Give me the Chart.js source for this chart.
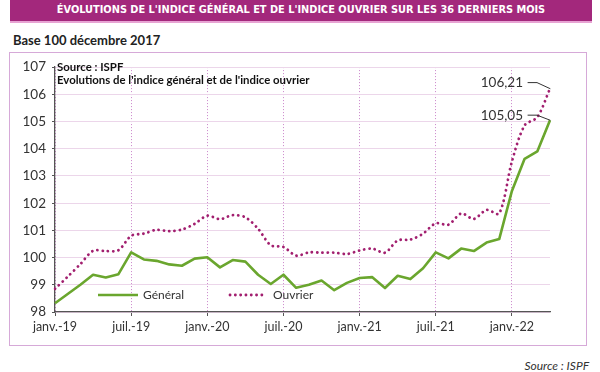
<!DOCTYPE html>
<html>
<head>
<meta charset="utf-8">
<script src="https://cdn.jsdelivr.net/npm/chart.js@4.4.0/dist/chart.umd.min.js"></script>
<style>
  html, body { margin: 0; padding: 0; background: #fff; }
  body { width: 600px; height: 372px; position: relative; overflow: hidden; font-family: Lato, 'Open Sans', sans-serif; color: #222; }
  .banner { position: absolute; left: 10px; top: 0; width: 582px; height: 21px; background: #a3287c; border-bottom: 2px solid #e7a3d3;
            color: #fff; font-weight: bold; font-size: 10.9px; line-height: 20px; text-align: center; font-family: 'DejaVu Sans Condensed', sans-serif; }
  .base { position: absolute; left: 13px; top: 32px; font-weight: bold; font-size: 13px; }
  .box { position: absolute; left: 9px; top: 52px; width: 578px; height: 294px; border: 1px solid #d6a9d8; box-sizing: border-box; }
  .box canvas { position: absolute; left: 0; top: 0; }
  .note { position: absolute; left: 47px; top: 7px; font-weight: bold; font-size: 11.4px; line-height: 13px; color: #111; }
  .src { position: absolute; right: 11px; top: 358px; font-style: italic; font-size: 12px; color: #333; }
</style>
</head>
<body>
<div class="banner">ÉVOLUTIONS DE L'INDICE GÉNÉRAL ET DE L'INDICE OUVRIER SUR LES 36 DERNIERS MOIS</div>
<div class="base">Base 100 décembre 2017</div>
<div class="box">
  <canvas id="chart" width="576" height="292"></canvas>
  <div class="note">Source : ISPF<br>Evolutions de l'indice général et de l'indice ouvrier</div>
</div>
<div class="src">Source : ISPF</div>

<script>
// ═══════════════════════════════════════
// DATA
// ═══════════════════════════════════════
const months = [
  'janv.-19','févr.-19','mars-19','avr.-19','mai-19','juin-19',
  'juil.-19','août-19','sept.-19','oct.-19','nov.-19','déc.-19',
  'janv.-20','févr.-20','mars-20','avr.-20','mai-20','juin-20',
  'juil.-20','août-20','sept.-20','oct.-20','nov.-20','déc.-20',
  'janv.-21','févr.-21','mars-21','avr.-21','mai-21','juin-21',
  'juil.-21','août-21','sept.-21','oct.-21','nov.-21','déc.-21',
  'janv.-22','févr.-22','mars-22','avr.-22'
];

const general = [
  98.32, 98.66, 99.00, 99.37, 99.27, 99.39,
  100.19, 99.93, 99.88, 99.75, 99.70, 99.96,
  100.01, 99.64, 99.91, 99.85, 99.37, 99.03,
  99.37, 98.89, 99.00, 99.16, 98.80, 99.07,
  99.25, 99.28, 98.88, 99.33, 99.21, 99.61,
  100.19, 99.97, 100.33, 100.24, 100.55, 100.68,
  102.45, 103.63, 103.90, 105.05
];

const ouvrier = [
  98.85, 99.30, 99.76, 100.25, 100.24, 100.27,
  100.80, 100.88, 101.02, 100.97, 101.03, 101.24,
  101.54, 101.41, 101.56, 101.48, 101.06, 100.45,
  100.39, 100.07, 100.19, 100.18, 100.18, 100.13,
  100.26, 100.33, 100.18, 100.63, 100.66, 100.88,
  101.26, 101.21, 101.62, 101.42, 101.75, 101.62,
  103.53, 104.86, 105.16, 106.21
];

const yTicks = [98, 99, 100, 101, 102, 103, 104, 105, 106, 107];
const lastLabels = ['105,05', '106,21'];

const GREEN = '#6aa62e';
const PLUM = '#a21f6f';

// ═══════════════════════════════════════
// LEGEND + END LABELS (drawn inside plot)
// ═══════════════════════════════════════
const extras = {
  id: 'extras',
  afterDatasetsDraw(chart) {
    const { ctx, chartArea: a } = chart;
    ctx.save();
    ctx.font = '12px Lato, "Open Sans", sans-serif';
    ctx.fillStyle = '#333';
    ctx.textBaseline = 'middle';

    // legend
    const ly = a.bottom - 17;
    chart.data.datasets.forEach((ds, i) => {
      const x0 = a.left + (i === 0 ? 43 : 175);
      const len = i === 0 ? 40 : 34;
      ctx.beginPath();
      ctx.strokeStyle = ds.borderColor;
      ctx.lineWidth = ds.borderWidth;
      ctx.lineCap = ds.borderCapStyle || 'butt';
      ctx.setLineDash(ds.borderDash || []);
      ctx.moveTo(x0, ly);
      ctx.lineTo(x0 + len, ly);
      ctx.stroke();
      ctx.setLineDash([]);
      ctx.fillText(ds.label, x0 + len + (i === 0 ? 5 : 9), ly + 0.5);
    });

    // last-value callouts
    ctx.font = '13.5px Lato, "Open Sans", sans-serif';
    ctx.textAlign = 'right';
    chart.data.datasets.forEach((ds, i) => {
      const pts = chart.getDatasetMeta(i).data;
      const p = pts[pts.length - 1];
      const ky = p.y - (i === 0 ? 5 : 6);
      const kx = p.x - 13;
      ctx.beginPath();
      ctx.strokeStyle = '#333';
      ctx.lineWidth = 1;
      ctx.moveTo(kx - 9, ky);
      ctx.lineTo(kx, ky);
      ctx.lineTo(p.x, p.y);
      ctx.stroke();
      ctx.fillText(lastLabels[i], kx - 14, ky + 0.5);
    });
    ctx.restore();
  }
};

// ═══════════════════════════════════════
// CHART
// ═══════════════════════════════════════
new Chart(document.getElementById('chart'), {
  type: 'line',
  data: {
    labels: months,
    datasets: [
      {
        label: 'Général',
        data: general,
        borderColor: GREEN,
        borderWidth: 2.6,
        pointRadius: 0,
        tension: 0,
        borderJoinStyle: 'round'
      },
      {
        label: 'Ouvrier',
        data: ouvrier,
        borderColor: PLUM,
        borderWidth: 2.8,
        borderDash: [0.1, 5.2],
        borderCapStyle: 'round',
        pointRadius: 0,
        tension: 0.3
      }
    ]
  },
  options: {
    responsive: false,
    animation: false,
    layout: { padding: { top: 11, right: 36, left: 0, bottom: 0 } },
    plugins: { legend: { display: false }, tooltip: { enabled: false } },
    scales: {
      x: {
        offset: false,
        afterFit: s => { s.height = 33; },
        grid: {
          color: c => (c.index % 6 === 0 ? 'rgba(196,120,196,0.9)' : 'transparent'),
          tickColor: c => (c.index % 6 === 0 ? '#555' : 'transparent'),
          tickLength: 4,
          lineWidth: 1
        },
        border: { display: true, color: '#555', width: 1.3, dash: [1, 2] },
        ticks: {
          autoSkip: false,
          maxRotation: 0,
          padding: 3,
          color: '#333',
          font: { family: 'Lato, "Open Sans", sans-serif', size: 12.5 },
          callback: (v, i) => (i % 6 === 0 ? months[i] : '')
        }
      },
      y: {
        min: yTicks[0],
        max: yTicks[yTicks.length - 1],
        afterFit: s => { s.width = 45; },
        afterBuildTicks: s => { s.ticks = yTicks.map(v => ({ value: v })); },
        grid: { color: '#ecd6ea', lineWidth: 1, tickColor: '#555', tickLength: 3 },
        border: { display: true, color: '#555', width: 1.3 },
        ticks: {
          padding: 6,
          color: '#333',
          font: { family: 'Lato, "Open Sans", sans-serif', size: 13.5 }
        }
      }
    }
  },
  plugins: [extras]
});
</script>
</body>
</html>
